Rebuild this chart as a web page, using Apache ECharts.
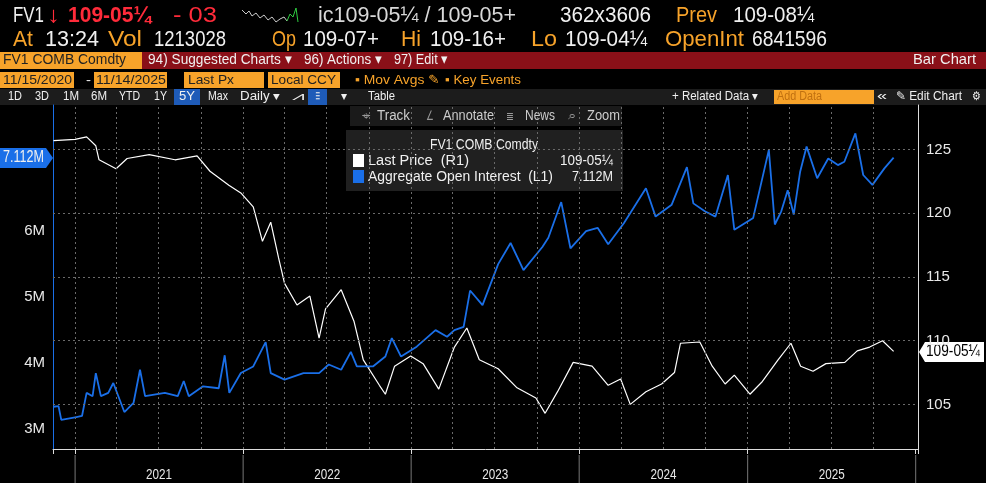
<!DOCTYPE html>
<html><head><meta charset="utf-8">
<script src="https://cdn.jsdelivr.net/npm/echarts@6/dist/echarts.min.js"></script>
<style>html,body{margin:0;padding:0;background:#000;}#c{width:986px;height:483px;}</style>
</head><body><div id="c"></div>
<script>
const oiData = [
['2020-11-15',3.34],['2020-11-26',3.35],['2020-12-02',3.14],['2021-01-01',3.18],['2021-01-16',3.2],['2021-01-26',3.55],
['2021-02-08',3.5],['2021-02-15',3.85],['2021-02-26',3.5],['2021-03-14',3.55],['2021-03-25',3.7],['2021-04-18',3.26],
['2021-05-08',3.4],['2021-05-22',3.9],['2021-06-02',3.5],['2021-07-15',3.55],['2021-08-12',3.5],['2021-08-25',3.73],
['2021-09-05',3.5],['2021-10-06',3.65],['2021-11-09',3.62],['2021-11-22',4.12],['2021-12-02',3.55],['2021-12-27',3.85],
['2022-01-23',3.95],['2022-02-19',4.32],['2022-03-02',3.85],['2022-04-01',3.75],['2022-05-12',3.85],['2022-06-15',3.85],
['2022-07-06',3.98],['2022-08-02',3.9],['2022-08-23',4.17],['2022-09-05',3.95],['2022-10-10',3.95],['2022-11-06',4.1],
['2022-11-20',4.38],['2022-12-10',4.1],['2023-01-13',4.25],['2023-02-23',4.5],['2023-03-20',4.4],['2023-04-05',4.5],
['2023-04-25',4.55],['2023-05-09',5.1],['2023-06-05',4.88],['2023-07-09',5.5],['2023-08-05',5.82],['2023-09-02',5.41],
['2023-10-13',5.76],['2023-10-26',5.9],['2023-11-23',6.44],['2023-12-13',5.74],['2024-01-16',6.0],['2024-02-10',6.05],
['2024-03-04',5.8],['2024-04-07',6.12],['2024-05-25',6.65],['2024-06-15',6.22],['2024-07-20',6.4],['2024-08-22',6.97],
['2024-09-05',6.42],['2024-09-30',6.3],['2024-10-23',6.22],['2024-11-19',6.85],['2024-12-03',6.02],['2025-01-13',6.2],
['2025-02-16',7.23],['2025-03-01',6.1],['2025-03-15',6.3],['2025-03-29',6.62],['2025-04-11',6.25],['2025-04-25',6.9],
['2025-05-09',7.28],['2025-06-01',6.8],['2025-06-25',7.1],['2025-07-16',7.0],['2025-07-30',7.05],['2025-08-23',7.48],
['2025-09-09',6.85],['2025-09-29',6.7],['2025-10-25',6.95],['2025-11-14',7.112]
];
const priceData = [
['2020-11-15',125.7],['2021-01-01',125.8],['2021-01-26',126.0],['2021-02-15',125.3],['2021-02-22',124.2],['2021-03-31',123.5],
['2021-04-24',124.3],['2021-06-11',124.6],['2021-08-06',124.2],['2021-09-23',124.5],['2021-10-21',123.3],['2021-12-01',122.2],
['2021-12-27',121.6],['2022-01-23',120.5],['2022-02-12',117.8],['2022-03-02',119.3],['2022-03-19',116.5],['2022-04-01',114.5],
['2022-04-28',112.8],['2022-05-26',113.5],['2022-06-15',110.2],['2022-06-29',112.5],['2022-08-02',114.0],['2022-08-30',111.5],
['2022-09-19',108.5],['2022-10-24',106.5],['2022-11-06',105.8],['2022-11-26',108.0],['2022-12-31',108.8],['2023-01-27',108.2],
['2023-03-02',106.2],['2023-04-05',109.5],['2023-05-02',111.0],['2023-05-29',108.5],['2023-07-09',107.8],['2023-08-19',106.3],
['2023-09-29',105.5],['2023-10-19',104.3],['2023-11-15',106.0],['2023-12-19',108.3],['2024-01-29',108.0],['2024-03-04',106.5],
['2024-03-31',107.0],['2024-04-21',105.0],['2024-05-25',106.0],['2024-06-28',106.6],['2024-07-26',107.5],['2024-08-08',109.8],
['2024-09-19',109.9],['2024-10-16',108.0],['2024-11-13',106.6],['2024-12-03',107.3],['2025-01-06',105.8],['2025-02-02',106.8],
['2025-03-08',108.5],['2025-04-05',109.8],['2025-04-26',108.0],['2025-05-23',107.6],['2025-06-20',108.2],['2025-07-31',108.3],
['2025-08-27',109.2],['2025-09-23',109.5],['2025-10-21',110.0],['2025-11-14',109.16]
];
const priceGrid = [105,110,115,120,125];
const quarterLines = ['2021-01-01','2021-04-01','2021-07-01','2021-10-01','2022-01-01','2022-04-01','2022-07-01','2022-10-01',
'2023-01-01','2023-04-01','2023-07-01','2023-10-01','2024-01-01','2024-04-01','2024-07-01','2024-10-01',
'2025-01-01','2025-04-01','2025-07-01','2025-10-01'];
const years = ['2021','2022','2023','2024','2025'];
const yearEnds = ['2026-01-01'];

const F = "'Liberation Sans',sans-serif";
const OR = '#f7a32a', W = '#f0f0f0', RED = '#ff2b3a', DK = '#222';
const ctx = document.createElement('canvas').getContext('2d');
// text fitted between x1 and x2, vertically centred at yc
function f(x1,x2,yc,s,c,sz,bold){const font=(bold?'bold ':'')+sz+'px '+F;ctx.font=font;const w=ctx.measureText(s).width;
  return {type:'text',x:x1,y:yc,scaleX:(x2-x1)/w,style:{text:s,fill:c,font:font,verticalAlign:'middle'}};}
const rect=(x,y,w,h,c)=>({type:'rect',shape:{x:x,y:y,width:w,height:h},style:{fill:c}});
const H=22, Y1=16, Y2=40;
const header = [
 f(13,44,Y1,'FV1',W,H), f(47,60,Y1,'↓',RED,H), f(68,151,Y1,'109-05¼',RED,H,true),
 f(173,217,Y1,'- 03',RED,H), f(318,516,Y1,'ic109-05¼ / 109-05+','#d8d8d8',H), f(560,651,Y1,'362x3606',W,H),
 f(676,717,Y1,'Prev',OR,H), f(733,814,Y1,'109-08¼',W,H),
 f(13,33,Y2,'At',OR,H), f(45,99,Y2,'13:24',W,H), f(108,142,Y2,'Vol',OR,H), f(154,226,Y2,'1213028',W,H),
 f(272,296,Y2,'Op',OR,H), f(303,379,Y2,'109-07+',W,H), f(401,421,Y2,'Hi',OR,H), f(430,506,Y2,'109-16+',W,H),
 f(531,557,Y2,'Lo',OR,H), f(565,647,Y2,'109-04¼',W,H), f(665,744,Y2,'OpenInt',OR,H), f(752,827,Y2,'6841596',W,H),
 {type:'polyline',shape:{points:[[242,10],[246,14],[249,11],[252,16],[256,13],[260,18],[264,15],[268,20],[272,17],[276,22],[280,19],[284,17],[287,21]]},style:{stroke:'#ccc',lineWidth:1,fill:null}},
 {type:'polyline',shape:{points:[[287,21],[290,14],[293,17],[296,8],[298,22]]},style:{stroke:'#2ecc40',lineWidth:1,fill:null}},
 rect(0,52,986,17,'#8a1018'), rect(0,52,142,17,OR),
 f(3,126,60,'FV1 COMB Comdty',DK,15), f(148,292,60,'94) Suggested Charts ▾',W,15), f(304,382,60,'96) Actions ▾',W,15),
 f(394,448,60,'97) Edit ▾',W,15), f(913,976,60,'Bar Chart',W,15),
 rect(0,72,74,16,OR), f(3,72,80,'11/15/2020',DK,13), f(86,91,80,'-',W,13),
 rect(94,72,73,16,OR), f(96,166,80,'11/14/2025',DK,13),
 rect(184,72,80,16,OR), f(188,234,80,'Last Px',DK,13),
 rect(268,72,72,16,OR), f(271,336,80,'Local CCY',DK,13),
 f(355,440,80,'▪ Mov Avgs ✎',OR,13), f(445,521,80,'▪ Key Events',OR,13),
 rect(0,89,986,16,'#1c1c1c'), rect(174,89,26,16,'#1e5bb8'), rect(308,89,19,16,'#1e5bb8'),
 f(8,22,97,'1D',W,12), f(35,49,97,'3D',W,12), f(63,79,97,'1M',W,12), f(91,107,97,'6M',W,12), f(119,140,97,'YTD',W,12),
 f(154,167,97,'1Y',W,12), f(179,195,97,'5Y',W,12), f(208,228,97,'Max',W,12), f(240,280,97,'Daily ▾',W,12),
 f(292,305,97,'⩘',W,12), f(313,322,97,'⫶',W,12), f(341,347,97,'▾',W,12), f(368,395,97,'Table',W,12),
 f(672,758,97,'+ Related Data ▾',W,12),
 rect(774,90,100,14,OR), f(777,822,97,'Add Data','#c07010',12),
 f(877,887,97,'«',W,12), f(896,962,97,'✎ Edit Chart',W,12), f(972,981,97,'⚙',W,12),
 rect(350,106,272,20,'#1a1a1a'),
 f(362,370,116,'⌖','#999',13), f(377,410,116,'Track','#ccc',14), f(426,434,116,'∠','#999',13), f(443,494,116,'Annotate','#ccc',14),
 f(506,514,116,'≣','#999',13), f(525,555,116,'News','#ccc',14), f(568,576,116,'⌕','#999',13), f(587,620,116,'Zoom','#ccc',14),
 rect(346,130,277,61,'rgba(38,38,38,0.85)'),
 f(430,538,145,'FV1 COMB Comdty',W,14),
 rect(353,154,11,13,'#fff'), f(368,469,161,'Last Price  (R1)',W,14), f(560,613,161,'109-05¼',W,14),
 rect(353,170,11,13,'#1a6fe8'), f(368,553,177,'Aggregate Open Interest  (L1)',W,14), f(572,613,177,'7.112M',W,14),
 rect(0,148,46,20,'#1a6fe8'),
 {type:'polygon',shape:{points:[[46,148],[53,158],[46,168]]},style:{fill:'#1a6fe8'}},
 f(3,44,158,'7.112M',W,16),
 {type:'polygon',shape:{points:[[919,352],[925,342],[984,342],[984,362],[925,362]]},style:{fill:'#fff'}},
 f(926,980,352,'109-05¼','#000',16)
];
const chart = echarts.init(document.getElementById('c'));
const gridLine = {color:'#6a6a6a',type:[2,3],width:1};
chart.setOption({
 backgroundColor:'#000', animation:false,
 grid:{left:53,right:68,top:105,bottom:34},
 xAxis:{type:'time',min:'2020-11-14',max:'2026-01-06',axisLine:{lineStyle:{color:'#ddd'}},axisTick:{show:true,lineStyle:{color:'#ddd'}},
   axisLabel:{show:false},splitLine:{show:false},minorTick:{show:false}},
 yAxis:[
  {type:'value',position:'left',min:2.7,max:7.91,interval:0.1,axisLine:{show:true,lineStyle:{color:'#1a6fe8'}},axisTick:{show:false},
   splitLine:{show:false},axisLabel:{color:'#e8e8e8',fontFamily:F,fontSize:15,formatter:v=>(Math.abs(v-Math.round(v))<1e-6&&Math.round(v)<=6)?Math.round(v)+'M':''}},
  {type:'value',position:'right',min:101.5,max:128.5,interval:0.5,axisLine:{show:true,lineStyle:{color:'#ddd'}},axisTick:{show:false},
   splitLine:{show:false},axisLabel:{color:'#e8e8e8',fontFamily:F,fontSize:15,formatter:v=>(Math.abs(v/5-Math.round(v/5))<1e-6)?String(Math.round(v)):''}}
 ],
 series:[
  {type:'line',name:'Last Price',yAxisIndex:1,data:priceData,showSymbol:false,lineStyle:{color:'#fff',width:1.2},z:3,
   markLine:{silent:true,symbol:'none',label:{show:false},lineStyle:gridLine,
     data:priceGrid.map(v=>({yAxis:v})).concat(quarterLines.map(d=>({xAxis:d})))}},
  {type:'line',name:'Aggregate Open Interest',yAxisIndex:0,data:oiData,showSymbol:false,lineStyle:{color:'#1a6fe8',width:1.8},z:4}
 ]
});
const extra = [];
const yb = [...years.map(y=>y+'-01-01'), ...yearEnds];
yb.forEach(d=>{const x=chart.convertToPixel({xAxisIndex:0},d);
  extra.push({type:'line',shape:{x1:x,y1:455,x2:x,y2:483},style:{stroke:'#777',lineWidth:1}});});
years.forEach((y,i)=>{const a=chart.convertToPixel({xAxisIndex:0},yb[i]),b=chart.convertToPixel({xAxisIndex:0},yb[i+1]);
  extra.push(f((a+b)/2-13,(a+b)/2+13,475,y,'#e8e8e8',15));});
chart.setOption({graphic:header.concat(extra)});
</script></body></html>
